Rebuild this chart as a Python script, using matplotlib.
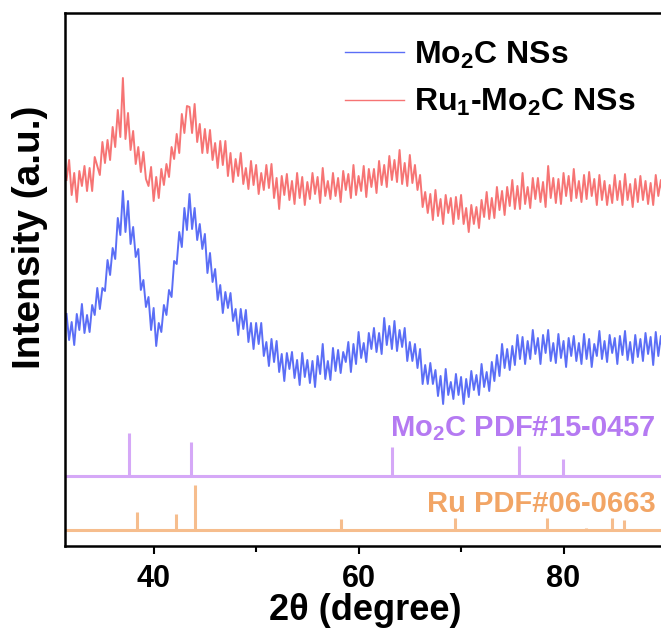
import numpy as np
import matplotlib

matplotlib.use("Agg")
from matplotlib import pyplot as plt
from matplotlib.ticker import MultipleLocator

plt.rcParams["font.family"] = ["Liberation Sans", "DejaVu Sans"]
plt.rcParams["font.weight"] = "bold"
plt.rcParams["axes.labelweight"] = "bold"
plt.rcParams["mathtext.fontset"] = "custom"
plt.rcParams["mathtext.rm"] = "Liberation Sans:bold"
plt.rcParams["mathtext.it"] = "Liberation Sans:bold"
plt.rcParams["mathtext.bf"] = "Liberation Sans:bold"
plt.rcParams["mathtext.default"] = "rm"

# 2theta grid of the scans (0.25 deg step)
two_theta = np.arange(31.5, 90.001, 0.25)

mo2c_ns = [
    232, 206, 224, 201, 232, 216, 242, 213,
    231, 214, 241, 231, 258, 237, 258, 255,
    286, 271, 298, 287, 328, 311, 355, 314,
    345, 302, 319, 289, 297, 256, 266, 239,
    249, 216, 238, 200, 223, 214, 241, 231,
    256, 249, 285, 282, 314, 299, 338, 316,
    352, 317, 338, 306, 322, 297, 312, 273,
    293, 264, 277, 246, 261, 233, 254, 238,
    253, 225, 237, 211, 237, 217, 236, 204,
    223, 197, 223, 202, 223, 190, 204, 180,
    207, 184, 205, 174, 192, 165, 193, 177,
    194, 168, 186, 161, 193, 169, 186, 163,
    185, 159, 190, 172, 202, 167, 185, 166,
    198, 175, 196, 173, 194, 184, 204, 174,
    202, 182, 214, 188, 203, 184, 213, 197,
    218, 194, 213, 192, 228, 201, 220, 197,
    225, 195, 216, 199, 218, 185, 204, 185,
    202, 178, 197, 162, 181, 162, 183, 162,
    176, 150, 170, 142, 177, 151, 164, 147,
    172, 151, 169, 142, 167, 149, 175, 156,
    171, 151, 182, 159, 174, 155, 184, 165,
    191, 170, 202, 178, 197, 176, 200, 181,
    211, 187, 209, 182, 205, 187, 216, 192,
    208, 182, 211, 193, 216, 185, 203, 183,
    212, 188, 205, 179, 208, 190, 210, 185,
    203, 182, 212, 187, 207, 179, 202, 190,
    215, 187, 205, 184, 211, 193, 208, 182,
    210, 191, 215, 186, 204, 183, 211, 189,
    207, 185, 213, 192, 209, 181, 214, 190,
    210, 188, 204,
]

ru1_mo2c_ns = [
    366, 386, 351, 373, 344, 375, 360, 380,
    355, 378, 355, 389, 380, 371, 404, 383,
    406, 386, 419, 399, 436, 409, 468, 407,
    433, 396, 415, 382, 399, 374, 394, 367,
    360, 379, 345, 369, 348, 377, 361, 382,
    369, 399, 387, 412, 393, 432, 413, 440,
    439, 413, 442, 404, 422, 393, 417, 393,
    416, 386, 403, 378, 405, 381, 405, 370,
    393, 364, 387, 370, 393, 362, 378, 357,
    385, 361, 381, 352, 373, 356, 381, 358,
    382, 348, 368, 337, 370, 351, 372, 346,
    365, 342, 373, 348, 369, 341, 364, 347,
    373, 352, 369, 343, 378, 350, 365, 347,
    373, 350, 368, 344, 375, 356, 372, 348,
    381, 351, 370, 355, 380, 349, 377, 359,
    377, 353, 385, 361, 381, 359, 390, 366,
    386, 364, 396, 362, 383, 360, 391, 363,
    381, 356, 371, 339, 354, 333, 352, 326,
    356, 330, 347, 322, 351, 333, 348, 322,
    349, 327, 351, 322, 338, 314, 341, 322,
    339, 318, 346, 329, 354, 327, 348, 328,
    359, 336, 355, 331, 359, 340, 366, 337,
    360, 337, 373, 342, 359, 338, 368, 347,
    368, 344, 364, 339, 380, 348, 368, 343,
    367, 342, 373, 350, 370, 345, 377, 348,
    365, 344, 371, 347, 374, 350, 367, 341,
    371, 346, 365, 341, 361, 343, 371, 346,
    365, 341, 372, 346, 362, 339, 367, 344,
    370, 346, 365, 342, 363, 341, 371, 350,
    366, 344, 363,
]

# standard cards: peak positions and relative stick heights
mo2c_pdf_pos = [37.6, 43.6, 63.3, 75.7, 79.9]
mo2c_pdf_int = [43, 34, 29, 30, 17]
ru_pdf_pos = [38.4, 42.2, 44.0, 58.3, 69.4, 78.4, 82.2, 84.7, 85.9]
ru_pdf_int = [18, 16, 45, 11, 12, 12, 2, 12, 10]

mo2c_base = 70
ru_base = 16

blue = "#5b6ef6"
red = "#f67474"
purple_line = "#d5a8f7"
purple_text = "#b57af2"
orange_line = "#f6bd8d"
orange_text = "#f2a565"

fig = plt.figure(figsize=(6.61, 6.28), dpi=100)
ax = fig.add_axes([65 / 661, 82 / 628, 601 / 661, 533 / 628])

ax.plot(two_theta, mo2c_ns, color=blue, lw=1.4, label="Mo$_2$C NSs")
ax.plot(two_theta, ru1_mo2c_ns, color=red, lw=1.4, label="Ru$_1$-Mo$_2$C NSs")

ax.axhline(mo2c_base, color=purple_line, lw=2.2)
ax.vlines(mo2c_pdf_pos, mo2c_base, [mo2c_base + h for h in mo2c_pdf_int],
          color=purple_line, lw=2.2)
ax.axhline(ru_base, color=orange_line, lw=2.2)
ax.vlines(ru_pdf_pos, ru_base, [ru_base + h for h in ru_pdf_int],
          color=orange_line, lw=2.2)

ax.text(89.0, 117, "Mo$_2$C PDF#15-0457", color=purple_text, fontsize=21,
        ha="right", va="center")
ax.text(89.0, 42, "Ru PDF#06-0663", color=orange_text, fontsize=21,
        ha="right", va="center")

ax.set_xlim(31.35, 90)
ax.set_ylim(0, 533)
ax.set_yticks([])
ax.xaxis.set_major_locator(MultipleLocator(20))
ax.xaxis.set_minor_locator(MultipleLocator(10))
ax.tick_params(axis="x", which="major", direction="out", length=6, width=1.5,
               labelsize=22, pad=7)
ax.tick_params(axis="x", which="minor", direction="out", length=4, width=1.5)
for side in ["left", "bottom", "top", "right"]:
    ax.spines[side].set_linewidth(1.8)

ax.set_xlabel("2θ (degree)", fontsize=26, fontweight="bold", labelpad=-1)
ax.set_ylabel("Intensity (a.u.)", fontsize=28, fontweight="bold")
ax.yaxis.set_label_coords(-0.028, 0.58)

leg = ax.legend(loc="upper left", bbox_to_anchor=(0.466, 0.95), frameon=False,
                fontsize=23, handlelength=1.85, handletextpad=0.3,
                borderpad=0, borderaxespad=0, labelspacing=0.5)
for line in leg.get_lines():
    line.set_linewidth(1.0)

fig.savefig("out.png", dpi=100)
